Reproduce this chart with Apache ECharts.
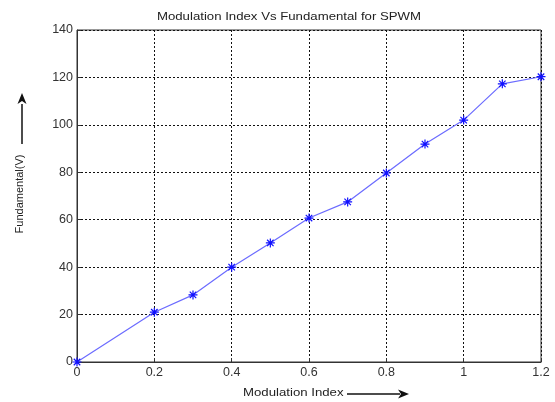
<!DOCTYPE html>
<html>
<head>
<meta charset="utf-8">
<script src="https://cdn.jsdelivr.net/npm/echarts@6/dist/echarts.min.js"></script>
<style>html,body{margin:0;padding:0;background:#fff;}#c{width:555px;height:402px;}</style>
</head>
<body>
<div id="c"></div>
<script>
const modulationIndex = [0, 0.2, 0.3, 0.4, 0.5, 0.6, 0.7, 0.8, 0.9, 1.0, 1.1, 1.2];
const fundamental = [0, 21, 28.3, 40, 50.2, 60.7, 67.5, 79.7, 91.9, 102, 117.3, 120.3];
const titleText = 'Modulation Index Vs Fundamental for SPWM';
const xName = 'Modulation Index';
const yName = 'Fundamental(V)';

const chart = echarts.init(document.getElementById('c'));
const font = 'Arial, "Liberation Sans", sans-serif';
const asterisk = 'path://M0,-5L0,5M-5,0L5,0M-3.6,-3.6L3.6,3.6M-3.6,3.6L3.6,-3.6';
chart.setOption({
  animation: false,
  backgroundColor: '#fff',
  grid: {left: 77, right: 14, top: 30, bottom: 40, show: true, borderColor: '#333', borderWidth: 1},
  xAxis: {
    type: 'value', min: 0, max: 1.2, interval: 0.2,
    axisLine: {lineStyle: {color: '#333', width: 1}},
    axisTick: {inside: true, length: 4, lineStyle: {color: '#333'}},
    axisLabel: {fontFamily: font, fontSize: 12.5, color: '#333', margin: 4,
      formatter: v => String(Math.round(v * 10) / 10)},
    splitLine: {show: true, lineStyle: {color: '#111', type: [2, 2], width: 1}}
  },
  yAxis: {
    type: 'value', min: 0, max: 140, interval: 20,
    axisLine: {show: true, lineStyle: {color: '#333', width: 1}},
    axisTick: {show: true, inside: true, length: 4, lineStyle: {color: '#333'}},
    axisLabel: {fontFamily: font, fontSize: 12.5, color: '#333', margin: 4},
    splitLine: {show: true, lineStyle: {color: '#111', type: [2, 2], width: 1}}
  },
  graphic: [
    {type: 'text', x: 289, y: 17, scaleX: 1.2,
      style: {text: titleText, font: '11px ' + font, fill: '#222', align: 'center', verticalAlign: 'middle'}},
    {type: 'text', x: 243, y: 393, scaleX: 1.2,
      style: {text: xName, font: '11px ' + font, fill: '#222', align: 'left', verticalAlign: 'middle'}},
    {type: 'line', shape: {x1: 347, y1: 394, x2: 400, y2: 394}, style: {stroke: '#111', lineWidth: 1.5}},
    {type: 'polygon', shape: {points: [[409, 394], [398, 389.5], [401, 394], [398, 398.5]]}, style: {fill: '#111'}},
    {type: 'text', x: 20, y: 194, rotation: Math.PI / 2,
      style: {text: yName, font: '11px ' + font, fill: '#222', align: 'center', verticalAlign: 'middle'}},
    {type: 'line', shape: {x1: 22, y1: 144, x2: 22, y2: 104}, style: {stroke: '#111', lineWidth: 1.5}},
    {type: 'polygon', shape: {points: [[22, 93], [17.5, 104], [22, 101], [26.5, 104]]}, style: {fill: '#111'}}
  ],
  series: [{
    type: 'line',
    data: modulationIndex.map((x, i) => [x, fundamental[i]]),
    symbol: asterisk, symbolSize: 9,
    lineStyle: {color: '#6b6bff', width: 1.2},
    itemStyle: {color: 'transparent', borderColor: '#1010ff', borderWidth: 1.2},
    clip: false
  }]
});
</script>
</body>
</html>
